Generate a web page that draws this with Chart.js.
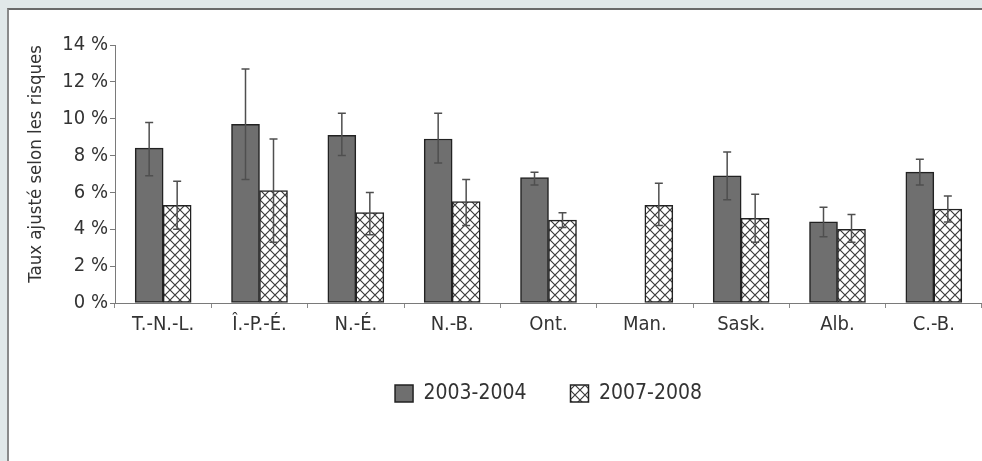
<!DOCTYPE html>
<html lang="fr">
<head>
<meta charset="utf-8">
<script src="https://cdn.jsdelivr.net/npm/chart.js@4.4.1/dist/chart.umd.min.js"></script>
<style>
  html, body { margin: 0; padding: 0; width: 982px; height: 461px; overflow: hidden; background: #e1e8e9; }
  #panel { position: absolute; left: 7px; top: 8px; width: 975px; height: 453px; background: #ffffff;
           border-top: 2px solid #6a6a6a; border-left: 2px solid #8a8a8a; box-sizing: border-box; }
  #chart { position: absolute; left: 0; top: 0; }
</style>
</head>
<body>
<div id="panel"></div>
<canvas id="chart" width="982" height="461"></canvas>
<script>
// Provinces
const categories = ['T.-N.-L.', 'Î.-P.-É.', 'N.-É.', 'N.-B.', 'Ont.', 'Man.', 'Sask.', 'Alb.', 'C.-B.'];
const seriesNames = ['2003-2004', '2007-2008'];

// Risk-adjusted rates (%)
const rate2003 = [8.4, 9.7, 9.1, 8.9, 6.8, null, 6.9, 4.4, 7.1];
const rate2007 = [5.3, 6.1, 4.9, 5.5, 4.5, 5.3, 4.6, 4.0, 5.1];

// 95 % confidence intervals
const low2003  = [6.9, 6.7, 8.0, 7.6, 6.4, null, 5.6, 3.6, 6.4];
const high2003 = [9.8, 12.7, 10.3, 10.3, 7.1, null, 8.2, 5.2, 7.8];
const low2007  = [4.0, 3.3, 3.7, 4.2, 4.1, 4.2, 3.3, 3.3, 4.4];
const high2007 = [6.6, 8.9, 6.0, 6.7, 4.9, 6.5, 5.9, 4.8, 5.8];

// Y axis
const yMin = 0, yMax = 14, yStep = 2;
const yTitle = 'Taux ajusté selon les risques';

const FONT = "'Liberation Sans Narrow', 'DejaVu Sans Condensed', 'Liberation Sans', sans-serif";
const TEXT = '#333333';

// Diamond lattice fill for the second series
function latticePattern() {
  const s = 10;
  const c = document.createElement('canvas');
  c.width = s; c.height = s;
  const g = c.getContext('2d');
  g.fillStyle = '#ffffff';
  g.fillRect(0, 0, s, s);
  g.strokeStyle = '#3c3c3c';
  g.lineWidth = 1.2;
  g.beginPath();
  g.moveTo(-1, -1); g.lineTo(s + 1, s + 1);
  g.moveTo(s + 1, -1); g.lineTo(-1, s + 1);
  g.stroke();
  return g.createPattern(c, 'repeat');
}

const ctx = document.getElementById('chart').getContext('2d');
const lattice = latticePattern();

const intervals = [[low2003, high2003], [low2007, high2007]];

// Draws the confidence-interval whiskers on every bar
const errorBars = {
  id: 'errorBars',
  afterDatasetsDraw(chart) {
    const c = chart.ctx;
    const y = chart.scales.y;
    c.save();
    c.strokeStyle = '#4f4f4f';
    c.lineWidth = 1.5;
    chart.data.datasets.forEach((ds, di) => {
      const meta = chart.getDatasetMeta(di);
      const [lo, hi] = intervals[di];
      meta.data.forEach((bar, i) => {
        if (ds.data[i] == null || lo[i] == null) return;
        const x = bar.x;
        const yl = y.getPixelForValue(lo[i]);
        const yh = y.getPixelForValue(hi[i]);
        const cap = 4;
        c.beginPath();
        c.moveTo(x, yl); c.lineTo(x, yh);
        c.moveTo(x - cap, yl); c.lineTo(x + cap, yl);
        c.moveTo(x - cap, yh); c.lineTo(x + cap, yh);
        c.stroke();
      });
    });
    c.restore();
  }
};

new Chart(ctx, {
  type: 'bar',
  data: {
    labels: categories,
    datasets: [
      {
        label: seriesNames[0],
        data: rate2003,
        backgroundColor: '#6f6f6f',
        borderColor: '#222222',
        borderWidth: 1.5,
        borderSkipped: false,
        barThickness: 28
      },
      {
        label: seriesNames[1],
        data: rate2007,
        backgroundColor: lattice,
        borderColor: '#222222',
        borderWidth: 1.5,
        borderSkipped: false,
        barThickness: 28
      }
    ]
  },
  options: {
    responsive: false,
    animation: false,
    devicePixelRatio: 1,
    layout: { padding: { top: 45, right: 0, bottom: 47, left: 0 } },
    plugins: {
      tooltip: { enabled: false },
      legend: {
        position: 'bottom',
        fullSize: false,
        labels: {
          boxWidth: 18,
          boxHeight: 17,
          padding: 44,
          color: TEXT,
          font: { family: FONT, size: 21 }
        }
      }
    },
    scales: {
      x: {
        afterFit(scale) { scale.height = 36; },
        grid: { drawOnChartArea: false, tickLength: 5, color: '#8a8a8a' },
        border: { color: '#7a7a7a', width: 1 },
        ticks: { color: TEXT, padding: 5, maxRotation: 0, font: { family: FONT, size: 20 } }
      },
      y: {
        min: yMin,
        max: yMax,
        afterFit(scale) { scale.width = 115; },
        grid: { drawOnChartArea: false, tickLength: 5, color: '#7a7a7a' },
        border: { color: '#7a7a7a', width: 1 },
        ticks: {
          stepSize: yStep,
          color: TEXT,
          padding: 2,
          font: { family: FONT, size: 20 },
          callback: v => v + ' %'
        },
        title: {
          display: true,
          text: yTitle,
          align: 'end',
          color: TEXT,
          padding: { top: 25, bottom: 0 },
          font: { family: FONT, size: 18.5 }
        }
      }
    }
  },
  plugins: [errorBars]
});
</script>
</body>
</html>
